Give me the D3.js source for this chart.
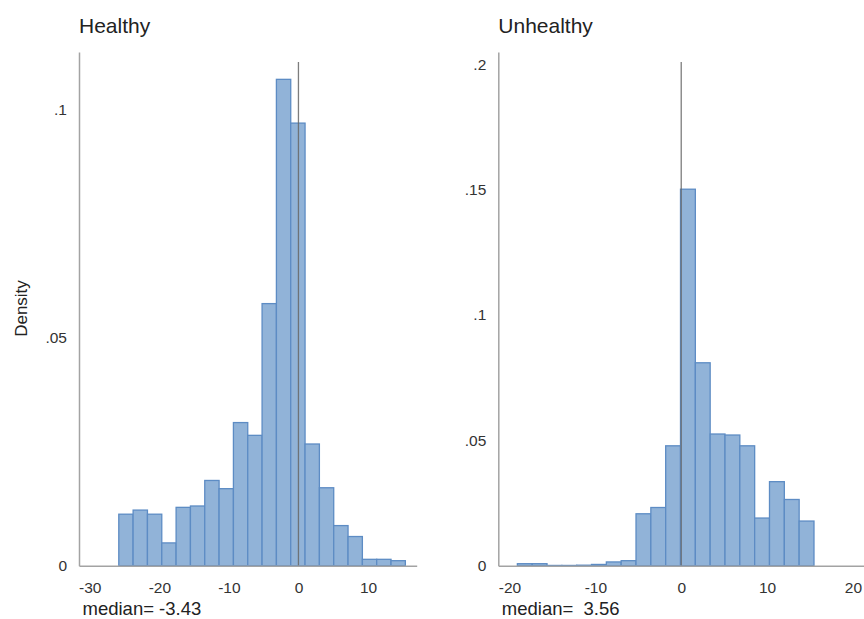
<!DOCTYPE html>
<html>
<head>
<meta charset="utf-8">
<script src="https://cdn.jsdelivr.net/npm/d3@7"></script>
<style>
  body { margin: 0; background: #fff; }
  svg { display: block; font-family: "Liberation Sans", Arial, sans-serif; }
  .axis path { stroke: #a3a3a3; stroke-width: 1.5; }
  .axis text { fill: #333; font-size: 15.5px; }
  .title { fill: #222; font-size: 21px; }
  .note { fill: #222; font-size: 18.5px; white-space: pre; }
  .ylab { fill: #222; font-size: 17px; }
  .bar { fill: #91b3d8; stroke: #5d8cc4; stroke-width: 1.3; }
  .zero { stroke: #666; stroke-width: 1.3; stroke-opacity: 0.85; }
</style>
</head>
<body>
<svg id="chart" width="864" height="619"></svg>
<script>
// healthy group
const healthyBinStart = -25.83
const healthyBinWidth = 2.06
const healthyDensity = [0.0113, 0.0122, 0.0113, 0.0050, 0.0128, 0.0131, 0.0187, 0.0169, 0.0314, 0.0286,
  0.0575, 0.1067, 0.0971, 0.0267, 0.0171, 0.0088, 0.0064, 0.0014, 0.0014, 0.0011]
const healthyXTicks = [-30, -20, -10, 0, 10]
const healthyYTicks = [0, 0.05, 0.1]
const healthyMedian = 'median= -3.43'

// unhealthy group
const unhealthyBinStart = -19.08
const unhealthyBinWidth = 1.727
const unhealthyDensity = [0.0008, 0.0008, 0.0001, 0.0001, 0.0002, 0.0005, 0.0015, 0.0020, 0.0207, 0.0232,
  0.0478, 0.1501, 0.0809, 0.0525, 0.0521, 0.0478, 0.0190, 0.0335, 0.0264, 0.0178]
const unhealthyXTicks = [-20, -10, 0, 10, 20]
const unhealthyYTicks = [0, 0.05, 0.1, 0.15, 0.2]
const unhealthyMedian = 'median=  3.56'

const svg = d3.select('#chart')
// stata style labels: .05 instead of 0.05, plain hyphen minus
const fmtY = d => d === 0 ? '0' : String(d).replace(/^0/, '')
const fmtX = d => String(d)

function drawPanel(p) {
    const x = d3.scaleLinear().domain(p.xDomain).range([p.left, p.right])
    const y = d3.scaleLinear().domain(p.yDomain).range([p.bottom, p.top])

    const bins = p.density.map((d, i) => ({
        x0: p.binStart + i * p.binWidth,
        x1: p.binStart + (i + 1) * p.binWidth,
        d: d
    }))

    svg.append('g')
    .selectAll('rect')
    .data(bins)
    .enter()
    .append('rect')
    .attr('class', 'bar')
    .attr('x', b => x(b.x0))
    .attr('y', b => y(b.d))
    .attr('width', b => x(b.x1) - x(b.x0))
    .attr('height', b => y(0) - y(b.d))

    // vertical line at zero
    svg.append('line')
    .attr('class', 'zero')
    .attr('x1', x(0))
    .attr('x2', x(0))
    .attr('y1', y(0))
    .attr('y2', p.top + 10)

    svg.append('g')
    .attr('class', 'axis')
    .attr('transform', `translate(0, ${p.bottom})`)
    .call(d3.axisBottom(x).tickValues(p.xTicks).tickSize(0).tickPadding(16).tickFormat(fmtX))
    .call(g => g.selectAll('text').attr('font-family', null).attr('font-size', null))

    svg.append('g')
    .attr('class', 'axis')
    .attr('transform', `translate(${p.left}, 0)`)
    .call(d3.axisLeft(y).tickValues(p.yTicks).tickSize(0).tickPadding(12).tickFormat(fmtY))
    .call(g => g.selectAll('text').attr('font-family', null).attr('font-size', null))

    svg.append('text')
    .attr('class', 'title')
    .attr('x', p.left)
    .attr('y', 33)
    .text(p.title)

    svg.append('text')
    .attr('class', 'note')
    .attr('x', p.left + 3.5)
    .attr('y', 615)
    .text(p.median)
}

drawPanel({
    title: 'Healthy', median: healthyMedian,
    binStart: healthyBinStart, binWidth: healthyBinWidth, density: healthyDensity,
    xTicks: healthyXTicks, yTicks: healthyYTicks,
    xDomain: [-31.55, 17], yDomain: [0, 0.1127],
    left: 79, right: 416.7, top: 52, bottom: 565.7
})

drawPanel({
    title: 'Unhealthy', median: unhealthyMedian,
    binStart: unhealthyBinStart, binWidth: unhealthyBinWidth, density: unhealthyDensity,
    xTicks: unhealthyXTicks, yTicks: unhealthyYTicks,
    xDomain: [-21.3, 21.4], yDomain: [0, 0.2048],
    left: 498.3, right: 865, top: 52, bottom: 565.7
})

svg.append('text')
.attr('class', 'ylab')
.attr('transform', 'translate(26.5, 308.5) rotate(-90)')
.attr('text-anchor', 'middle')
.text('Density')
</script>
</body>
</html>
